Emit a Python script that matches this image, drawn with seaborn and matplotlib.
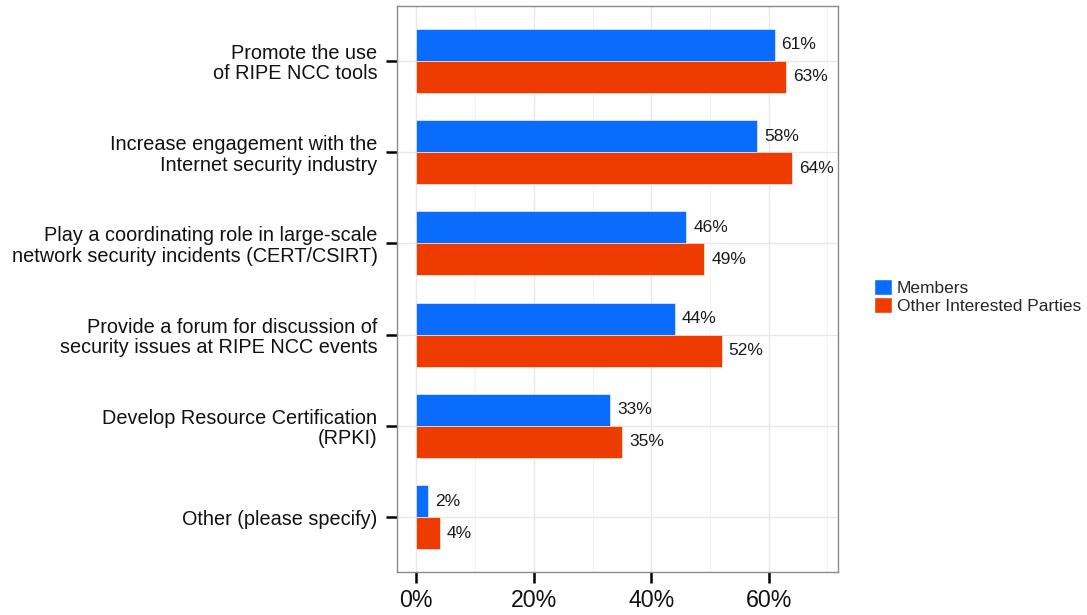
import matplotlib
matplotlib.use("Agg")
import matplotlib.pyplot as plt
from matplotlib.patches import Patch
from matplotlib.ticker import FixedLocator, FuncFormatter
import seaborn as sns
import pandas as pd

categories = [
    "Promote the use\nof RIPE NCC tools",
    "Increase engagement with the\nInternet security industry",
    "Play a coordinating role in large-scale\nnetwork security incidents (CERT/CSIRT)",
    "Provide a forum for discussion of\nsecurity issues at RIPE NCC events",
    "Develop Resource Certification\n(RPKI)",
    "Other (please specify)",
]
groups = ["Members", "Other Interested Parties"]
members = [61, 58, 46, 44, 33, 2]
others = [63, 64, 49, 52, 35, 4]
x_ticks = [0, 20, 40, 60]

df = pd.DataFrame({
    "category": categories * 2,
    "group": [groups[0]] * len(categories) + [groups[1]] * len(categories),
    "value": members + others,
})

palette = {groups[0]: "#0A6CFF", groups[1]: "#EE3B00"}

sns.set_theme(style="white")
plt.rcParams["font.family"] = ["Liberation Sans", "DejaVu Sans"]

fig = plt.figure(figsize=(10.87, 6.15), dpi=100)
ax = fig.add_axes([0.3652, 0.0699, 0.7709 - 0.3652, 0.9902 - 0.0699])

sns.barplot(data=df, y="category", x="value", hue="group", order=categories,
            hue_order=groups, palette=palette, orient="h", width=0.7,
            saturation=1, edgecolor="white", linewidth=0.4, ax=ax, legend=False)

# value labels just past each bar end
for container in ax.containers:
    for bar in container:
        v = bar.get_width()
        ax.text(v + 1.2, bar.get_y() + bar.get_height() / 2, f"{v:.0f}%",
                ha="left", va="center", fontsize=12.5, color="#1a1a1a")

ax.set_xlim(-3.3, 71.8)
ax.set_ylim(len(categories) - 0.4, -0.6)

# grid: major at 20% steps, minor between
ax.xaxis.set_major_locator(FixedLocator(x_ticks))
ax.xaxis.set_minor_locator(FixedLocator([10, 30, 50, 70]))
ax.xaxis.set_major_formatter(FuncFormatter(lambda v, p: f"{v:.0f}%"))
ax.grid(True, which="major", axis="both", color="#E8E8E8", linewidth=1.0)
ax.grid(True, which="minor", axis="x", color="#F3F3F3", linewidth=0.8)
ax.set_axisbelow(True)

for s in ax.spines.values():
    s.set_color("#8C8C8C")
    s.set_linewidth(1.0)

ax.tick_params(axis="y", which="major", length=8, width=1.8, color="black",
               labelsize=14.3, labelcolor="#111111", pad=6, left=True)
ax.tick_params(axis="x", which="major", length=8, width=1.8, color="black",
               labelsize=16.7, labelcolor="#111111", pad=4, bottom=True)
ax.tick_params(axis="x", which="minor", length=0)
for lbl in ax.get_yticklabels():
    lbl.set_horizontalalignment("right")
    lbl.set_multialignment("right")
    lbl.set_linespacing(1.1)

ax.set_xlabel("")
ax.set_ylabel("")

handles = [Patch(facecolor=palette[g], edgecolor="white", label=g) for g in groups]
fig.legend(handles=handles, loc="center left", bbox_to_anchor=(0.798, 0.518),
           frameon=False, fontsize=12.5, handlelength=1.0, handleheight=1.05,
           handletextpad=0.3, labelspacing=0.08, borderaxespad=0)

fig.savefig("out.png", dpi=100)
